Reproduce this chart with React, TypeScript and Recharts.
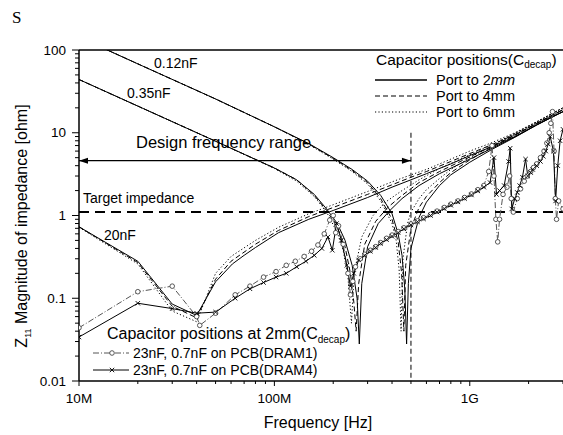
import React from "react";
import { LineChart, Line, XAxis, YAxis, ReferenceLine } from "recharts";

type Pt = [number, number];

// axis ticks
const xMajorTicks = [1e7, 1e8, 1e9];
const xTickLabels = ["10M", "100M", "1G"];
const yMajorTicks = [0.01, 0.1, 1, 10, 100];
const yTickLabels = ["0.01", "0.1", "1", "10", "100"];
const minorSteps = [2, 3, 4, 5, 6, 7, 8, 9];

const targetImpedance = 1.1;
const designRange: Pt = [1e7, 5e8];
const designArrowLevel = 4.6;
const markerTop = 10;

// 0.12nF decap, port to 2/4/6mm
const cap012Solid: Pt[] = [
  [1e7, 143], [2e7, 68], [5e7, 25.6], [1e8, 11.8], [1.5e8, 7.4], [2e8, 5.0], [2.5e8, 3.6],
  [3e8, 2.6], [3.5e8, 1.75], [4e8, 1.05], [4.3e8, 0.6], [4.5e8, 0.33], [4.65e8, 0.13],
  [4.75e8, 0.028], [4.85e8, 0.15], [5e8, 0.4], [5.5e8, 0.95], [6e8, 1.45], [7e8, 2.3],
  [8e8, 3.1], [1e9, 4.4], [1.3e9, 6.3], [1.7e9, 8.8], [2.2e9, 12.4], [3e9, 18],
];
const cap012Dashed: Pt[] = [
  [1e7, 143], [2e7, 68], [5e7, 25.6], [1e8, 11.8], [1.5e8, 7.3], [2e8, 4.9], [2.5e8, 3.5],
  [3e8, 2.5], [3.5e8, 1.6], [4e8, 0.9], [4.3e8, 0.48], [4.48e8, 0.2], [4.6e8, 0.04],
  [4.7e8, 0.25], [5e8, 0.7], [5.5e8, 1.25], [6e8, 1.7], [7e8, 2.5], [8e8, 3.3], [1e9, 4.7],
  [1.3e9, 6.7], [1.7e9, 9.3], [2.2e9, 13], [3e9, 19],
];
const cap012Dotted: Pt[] = [
  [1e7, 143], [2e7, 68], [5e7, 25.6], [1e8, 11.8], [1.5e8, 7.2], [2e8, 4.8], [2.5e8, 3.4],
  [3e8, 2.4], [3.5e8, 1.5], [4e8, 0.8], [4.2e8, 0.5], [4.35e8, 0.22], [4.45e8, 0.04],
  [4.55e8, 0.3], [4.8e8, 0.8], [5e8, 1.1], [5.5e8, 1.6], [6e8, 2.05], [7e8, 2.8], [8e8, 3.6],
  [1e9, 5.0], [1.3e9, 7.0], [1.7e9, 9.8], [2.2e9, 13.5], [3e9, 20],
];

// 0.35nF decap
const cap035Solid: Pt[] = [
  [1e7, 44], [2e7, 21], [5e7, 7.9], [1e8, 3.75], [1.3e8, 2.7], [1.6e8, 1.8], [1.85e8, 1.2],
  [2.1e8, 0.8], [2.3e8, 0.5], [2.5e8, 0.25], [2.65e8, 0.1], [2.72e8, 0.028], [2.8e8, 0.15],
  [3e8, 0.42], [3.4e8, 0.8], [3.9e8, 1.15], [4.5e8, 1.6], [5.5e8, 2.3], [7e8, 3.2],
  [1e9, 4.8], [1.3e9, 6.5], [1.7e9, 8.9], [2.2e9, 12.4], [3e9, 18],
];
const cap035Dashed: Pt[] = [
  [1e7, 44], [2e7, 21], [5e7, 7.9], [1e8, 3.75], [1.3e8, 2.7], [1.6e8, 1.75], [1.85e8, 1.15],
  [2.1e8, 0.72], [2.3e8, 0.42], [2.45e8, 0.2], [2.55e8, 0.09], [2.62e8, 0.04], [2.7e8, 0.15],
  [2.9e8, 0.45], [3.3e8, 0.85], [3.8e8, 1.25], [4.5e8, 1.75], [5.5e8, 2.5], [7e8, 3.4],
  [1e9, 5.1], [1.3e9, 6.9], [1.7e9, 9.4], [2.2e9, 12.9], [3e9, 19],
];
const cap035Dotted: Pt[] = [
  [1e7, 44], [2e7, 21], [5e7, 7.9], [1e8, 3.7], [1.3e8, 2.6], [1.6e8, 1.7], [1.85e8, 1.1],
  [2.1e8, 0.62], [2.25e8, 0.38], [2.38e8, 0.18], [2.48e8, 0.05], [2.56e8, 0.2], [2.8e8, 0.55],
  [3.2e8, 1.0], [3.7e8, 1.45], [4.5e8, 2.0], [5.5e8, 2.7], [7e8, 3.7], [1e9, 5.4],
  [1.3e9, 7.2], [1.7e9, 9.8], [2.2e9, 13.4], [3e9, 20],
];

// 20nF decap
const cap20Solid: Pt[] = [
  [1e7, 0.73], [2e7, 0.28], [3e7, 0.085], [4e7, 0.062], [5e7, 0.158], [6.1e7, 0.26],
  [7e7, 0.33], [8e7, 0.41], [1.05e8, 0.62], [1.5e8, 0.9], [2e8, 1.15], [3e8, 1.65],
  [4e8, 2.2], [5e8, 2.7], [6e8, 3.2], [8e8, 4.2], [1e9, 5.3], [1.3e9, 6.8], [1.7e9, 9],
  [2.2e9, 12.5], [2.6e9, 15.5], [3e9, 18],
];
const cap20Dashed: Pt[] = [
  [1e7, 0.73], [2e7, 0.27], [3e7, 0.08], [4e7, 0.058], [5e7, 0.17], [6e7, 0.28], [8e7, 0.45],
  [1.05e8, 0.66], [1.5e8, 0.97], [2e8, 1.25], [3e8, 1.8], [4e8, 2.35], [5e8, 2.9], [6e8, 3.4],
  [8e8, 4.5], [1e9, 5.6], [1.3e9, 7.2], [1.7e9, 9.5], [2.2e9, 13], [2.6e9, 16], [3e9, 19],
];
const cap20Dotted: Pt[] = [
  [1e7, 0.72], [2e7, 0.26], [3e7, 0.07], [4e7, 0.052], [5e7, 0.2], [6e7, 0.32], [8e7, 0.5],
  [1.05e8, 0.72], [1.5e8, 1.05], [2e8, 1.35], [3e8, 1.95], [4e8, 2.55], [5e8, 3.1], [6e8, 3.6],
  [8e8, 4.8], [1e9, 6.0], [1.3e9, 7.6], [1.7e9, 10], [2.2e9, 13.6], [2.6e9, 16.8], [3e9, 20],
];

// measured: 23nF, 0.7nF on PCB
const dram1: Pt[] = [
  [1e7, 0.044], [2e7, 0.12], [3e7, 0.14], [4e7, 0.06], [4.15e7, 0.047], [5e7, 0.066],
  [6.3e7, 0.11], [7.5e7, 0.14], [8.8e7, 0.18], [1.02e8, 0.21], [1.15e8, 0.25], [1.28e8, 0.28],
  [1.42e8, 0.32], [1.55e8, 0.37], [1.67e8, 0.44], [1.8e8, 0.6], [1.92e8, 0.88], [2e8, 1.0],
  [2.06e8, 0.62], [2.13e8, 0.75], [2.25e8, 0.45], [2.38e8, 0.2], [2.45e8, 0.11], [2.52e8, 0.16],
  [2.6e8, 0.24], [2.75e8, 0.3], [2.9e8, 0.34], [3.1e8, 0.38], [3.3e8, 0.42], [3.5e8, 0.47],
  [3.75e8, 0.53], [4e8, 0.58], [4.3e8, 0.64], [4.6e8, 0.71], [5e8, 0.79], [5.4e8, 0.86],
  [5.8e8, 0.94], [6.3e8, 1.03], [6.8e8, 1.13], [7.4e8, 1.25], [8e8, 1.37], [8.7e8, 1.5],
  [9.4e8, 1.65], [1.02e9, 1.82], [1.1e9, 2.05], [1.18e9, 2.3], [1.25e9, 3.4], [1.3e9, 7.0],
  [1.33e9, 3.0], [1.36e9, 0.9], [1.39e9, 0.48], [1.42e9, 0.9], [1.48e9, 1.8], [1.55e9, 2.2],
  [1.6e9, 3.0], [1.63e9, 1.6], [1.67e9, 1.1], [1.75e9, 1.6], [1.82e9, 2.1], [1.9e9, 2.6],
  [1.97e9, 3.0], [2.05e9, 3.4], [2.12e9, 3.8], [2.2e9, 4.2], [2.3e9, 5.0], [2.4e9, 6.0],
  [2.48e9, 7.5], [2.55e9, 10], [2.6e9, 13], [2.65e9, 18], [2.7e9, 6], [2.74e9, 1.6],
  [2.78e9, 0.9], [2.85e9, 1.5], [3e9, 1.2],
];
const dram4: Pt[] = [
  [1e7, 0.034], [2e7, 0.087], [3e7, 0.075], [4e7, 0.066], [5e7, 0.068], [6.3e7, 0.1],
  [7.5e7, 0.13], [8.8e7, 0.155], [1.02e8, 0.18], [1.15e8, 0.2], [1.3e8, 0.24], [1.45e8, 0.28],
  [1.6e8, 0.33], [1.75e8, 0.4], [1.88e8, 0.55], [1.98e8, 0.38], [2.08e8, 0.8], [2.2e8, 0.5],
  [2.35e8, 0.25], [2.45e8, 0.14], [2.55e8, 0.2], [2.7e8, 0.29], [2.9e8, 0.33], [3.1e8, 0.37],
  [3.3e8, 0.41], [3.5e8, 0.46], [3.75e8, 0.51], [4e8, 0.56], [4.3e8, 0.62], [4.6e8, 0.69],
  [5e8, 0.77], [5.4e8, 0.84], [5.8e8, 0.91], [6.3e8, 1.0], [6.8e8, 1.1], [7.4e8, 1.21],
  [8e8, 1.33], [8.7e8, 1.46], [9.4e8, 1.6], [1.02e9, 1.77], [1.1e9, 1.98], [1.18e9, 2.2],
  [1.27e9, 2.5], [1.33e9, 5.0], [1.37e9, 1.8], [1.42e9, 2.0], [1.5e9, 2.3], [1.58e9, 4.5],
  [1.61e9, 6.5], [1.64e9, 1.2], [1.7e9, 1.6], [1.75e9, 1.9], [1.8e9, 2.3], [1.86e9, 2.9],
  [1.93e9, 4.8], [1.98e9, 3.0], [2.05e9, 3.3], [2.1e9, 3.6], [2.2e9, 4.0], [2.3e9, 4.5],
  [2.38e9, 5.2], [2.45e9, 6], [2.52e9, 7.3], [2.58e9, 9], [2.68e9, 6], [2.75e9, 1.5],
  [2.82e9, 4], [2.9e9, 8], [3e9, 11],
];

const font = "'Liberation Sans', Arial, sans-serif";
const toRows = (pts: Pt[]) => pts.map(([f, z]) => ({ f, z }));

const xMinorTicks = [1e7, 1e8, 1e9]
  .flatMap((d) => minorSteps.map((s) => d * s))
  .filter((v) => v <= 3e9);
const yMinorTicks = [0.01, 0.1, 1, 10].flatMap((d) => minorSteps.map((s) => d * s));

function XTick(props: any) {
  const { x, y, payload } = props;
  const i = xMajorTicks.indexOf(payload.value);
  return (
    <g>
      <line x1={x} y1={y} x2={x} y2={y + (i >= 0 ? 5 : 3)} stroke="#000" />
      {i >= 0 && (
        <text x={x} y={y + 22} textAnchor="middle" fontSize={13.5} fontFamily={font} fill="#000">
          {xTickLabels[i]}
        </text>
      )}
    </g>
  );
}

function YTick(props: any) {
  const { x, y, payload } = props;
  const i = yMajorTicks.indexOf(payload.value);
  return (
    <g>
      <line x1={x - (i >= 0 ? 7 : 4)} y1={y} x2={x} y2={y} stroke="#000" />
      {i >= 0 && (
        <text x={x - 13} y={y} dy="0.35em" textAnchor="end" fontSize={13.5} fontFamily={font} fill="#000">
          {yTickLabels[i]}
        </text>
      )}
    </g>
  );
}

function ArrowShape(p: any) {
  const a = Math.min(p.x1, p.x2);
  const b = Math.max(p.x1, p.x2);
  const y = p.y1;
  return (
    <g>
      <line x1={a} y1={y} x2={b} y2={y} stroke="#000" strokeWidth={1.2} />
      <path d={`M${a},${y} l9,-3 v6 z`} fill="#000" />
      <path d={`M${b},${y} l-9,-3 v6 z`} fill="#000" />
    </g>
  );
}

const CircleDot = (p: any) => (
  <circle key={`c${p.index}`} cx={p.cx} cy={p.cy} r={2.3} fill="#fff" stroke="#444" strokeWidth={0.9} />
);
const CrossDot = (p: any) => (
  <path
    key={`x${p.index}`}
    d={`M${p.cx - 2.2},${p.cy - 2.2}L${p.cx + 2.2},${p.cy + 2.2}M${p.cx - 2.2},${p.cy + 2.2}L${p.cx + 2.2},${p.cy - 2.2}`}
    stroke="#000"
    strokeWidth={0.9}
  />
);

const capSeries = [
  { id: "c012s", pts: cap012Solid, dash: undefined },
  { id: "c012d", pts: cap012Dashed, dash: "5 3" },
  { id: "c012o", pts: cap012Dotted, dash: "1.2 2.2" },
  { id: "c035s", pts: cap035Solid, dash: undefined },
  { id: "c035d", pts: cap035Dashed, dash: "5 3" },
  { id: "c035o", pts: cap035Dotted, dash: "1.2 2.2" },
  { id: "c20s", pts: cap20Solid, dash: undefined },
  { id: "c20d", pts: cap20Dashed, dash: "5 3" },
  { id: "c20o", pts: cap20Dotted, dash: "1.2 2.2" },
];

export default function App() {
  return (
    <div style={{ position: "absolute", left: 0, top: 0, width: 563, height: 435, background: "#fff" }}>
      <LineChart width={563} height={435} margin={{ top: 50, right: 0, bottom: 0, left: 0 }}>
        <XAxis
          dataKey="f"
          type="number"
          scale="log"
          domain={[1e7, 3e9]}
          allowDataOverflow
          ticks={[...xMajorTicks, ...xMinorTicks]}
          interval={0}
          tick={<XTick />}
          tickLine={false}
          tickSize={0}
          tickMargin={0}
          height={54}
          axisLine={{ stroke: "#000", strokeWidth: 1.5 }}
        />
        <YAxis
          type="number"
          scale="log"
          domain={[0.01, 100]}
          allowDataOverflow
          ticks={[...yMajorTicks, ...yMinorTicks]}
          interval={0}
          tick={<YTick />}
          tickLine={false}
          tickSize={0}
          tickMargin={0}
          width={79}
          axisLine={{ stroke: "#000", strokeWidth: 1.5 }}
        />
        <ReferenceLine y={100} stroke="#000" strokeWidth={1.5} />
        <ReferenceLine y={targetImpedance} stroke="#000" strokeWidth={2} strokeDasharray="10 6" />
        <ReferenceLine
          segment={[{ x: designRange[1], y: markerTop }, { x: designRange[1], y: 0.01 }]}
          stroke="#000"
          strokeDasharray="5 3"
        />
        <ReferenceLine
          segment={[{ x: designRange[0], y: designArrowLevel }, { x: designRange[1], y: designArrowLevel }]}
          shape={ArrowShape}
        />
        {capSeries.map((s) => (
          <Line
            key={s.id}
            data={toRows(s.pts)}
            dataKey="z"
            type="linear"
            stroke="#000"
            strokeWidth={1}
            strokeDasharray={s.dash}
            dot={false}
            isAnimationActive={false}
          />
        ))}
        <Line
          data={toRows(dram1)}
          dataKey="z"
          type="linear"
          stroke="#555"
          strokeWidth={1}
          strokeDasharray="6 2 1 2"
          dot={CircleDot}
          isAnimationActive={false}
        />
        <Line
          data={toRows(dram4)}
          dataKey="z"
          type="linear"
          stroke="#000"
          strokeWidth={1}
          dot={CrossDot}
          isAnimationActive={false}
        />
      </LineChart>

      <svg
        width={563}
        height={435}
        style={{ position: "absolute", left: 0, top: 0, pointerEvents: "none" }}
        fontFamily={font}
        fill="#000"
      >
        <text x={12} y={23} fontSize={17} fontFamily="'Liberation Serif', 'DejaVu Serif', serif">S</text>

        <text transform="translate(27,226) rotate(-90)" textAnchor="middle" fontSize={16}>
          Z<tspan fontSize={9} dy={4}>11</tspan>
          <tspan dy={-4}> Magnitude of impedance [ohm]</tspan>
        </text>
        <text x={318} y={428} textAnchor="middle" fontSize={16}>Frequency [Hz]</text>

        <text x={154} y={68} fontSize={14}>0.12nF</text>
        <text x={127} y={98} fontSize={14}>0.35nF</text>
        <text x={104} y={240} fontSize={14}>20nF</text>
        <text x={136} y={148} fontSize={16.5}>Design frequency range</text>
        <text x={83} y={203} fontSize={14}>Target impedance</text>

        <g>
          <text x={376} y={65} fontSize={15.5}>
            Capacitor positions(C<tspan fontSize={10} dy={3}>decap</tspan><tspan dy={-3}>)</tspan>
          </text>
          <line x1={375} y1={80} x2={427} y2={80} stroke="#000" strokeWidth={1.3} />
          <line x1={375} y1={96} x2={427} y2={96} stroke="#000" strokeWidth={1.1} strokeDasharray="5 3" />
          <line x1={375} y1={112} x2={427} y2={112} stroke="#000" strokeWidth={1.1} strokeDasharray="1.2 2.2" />
          <text x={436} y={85} fontSize={14.5}>
            Port to 2<tspan fontStyle="italic">mm</tspan>
          </text>
          <text x={436} y={101} fontSize={14.5}>Port to 4mm</text>
          <text x={436} y={117} fontSize={14.5}>Port to 6mm</text>
        </g>

        <g>
          <text x={107} y={339} fontSize={16}>
            Capacitor positions at 2mm(C<tspan fontSize={10} dy={4}>decap</tspan><tspan dy={-4}>)</tspan>
          </text>
          <line x1={93} y1={353} x2={129} y2={353} stroke="#555" strokeDasharray="6 2 1 2" />
          <circle cx={112} cy={353} r={2.3} fill="#fff" stroke="#444" strokeWidth={0.9} />
          <text x={133} y={358} fontSize={14}>23nF, 0.7nF on PCB(DRAM1)</text>
          <line x1={93} y1={370} x2={129} y2={370} stroke="#000" />
          <path d="M109.8,367.8L114.2,372.2M109.8,372.2L114.2,367.8" stroke="#000" strokeWidth={0.9} />
          <text x={133} y={375} fontSize={14}>23nF, 0.7nF on PCB(DRAM4)</text>
        </g>
      </svg>
    </div>
  );
}
